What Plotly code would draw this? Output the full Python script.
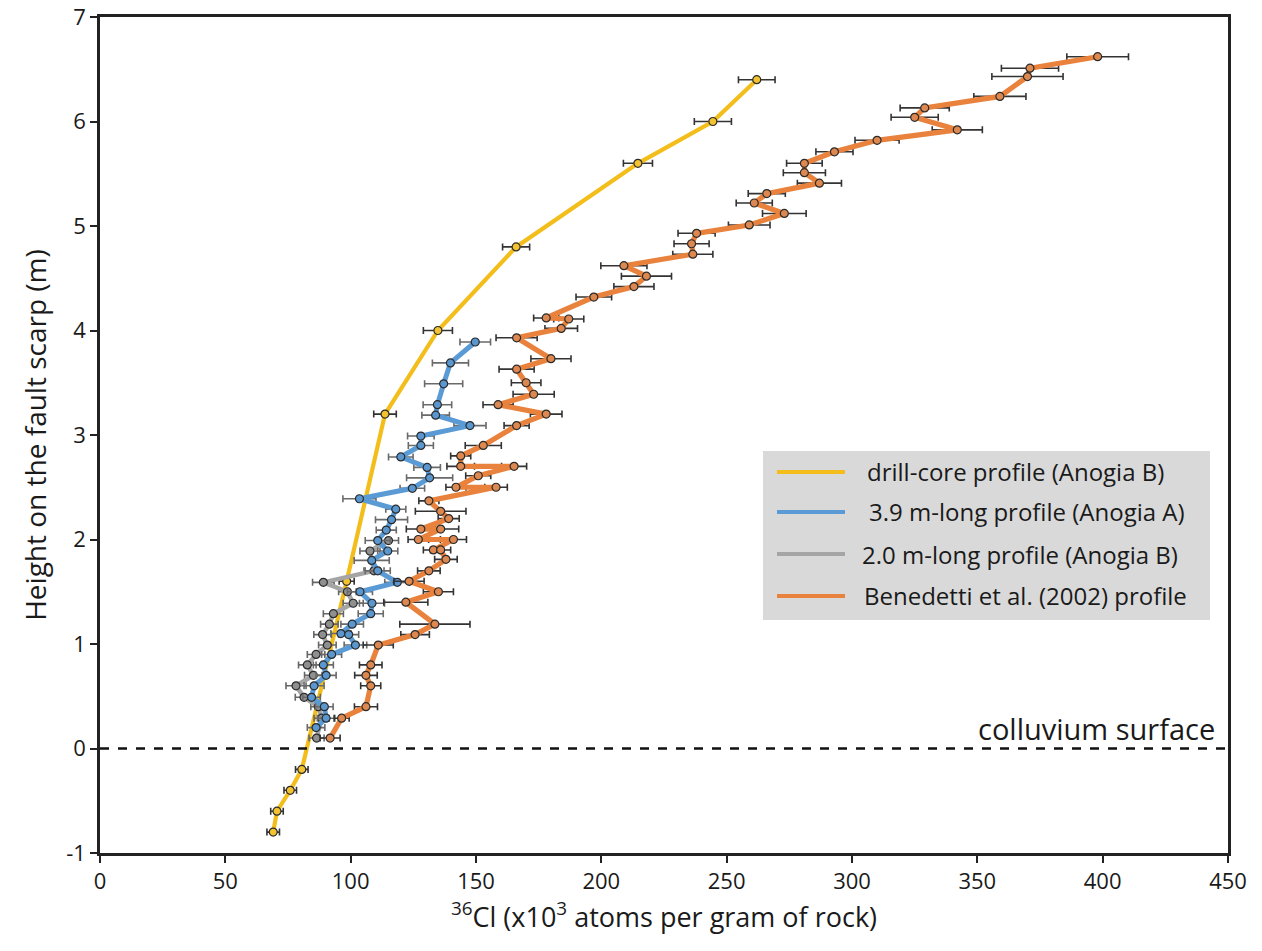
import plotly.graph_objects as go

# ---------------- data ----------------
# drill-core profile (Anogia B)
drill_h = [6.4, 6.0, 5.6, 4.8, 4.0, 3.2, 1.6, -0.2, -0.4, -0.6, -0.8]
drill_v = [262, 244.5, 214.6, 166, 134.8, 113.7, 98.4, 80.5, 75.9, 70.6, 69.1]
drill_e = [7.3, 7.4, 5.8, 5.4, 5.8, 4.5, 3.0, 2.5, 2.5, 2.5, 2.5]

# 3.9 m-long profile (Anogia A)
a39_h = [3.89, 3.69, 3.49, 3.29, 3.19, 3.09, 2.99, 2.90, 2.79, 2.69, 2.59, 2.49, 2.39,
         2.29, 2.19, 2.09, 1.99, 1.89, 1.80, 1.70, 1.59, 1.50, 1.39, 1.29, 1.19, 1.10,
         1.09, 0.99, 0.90, 0.80, 0.70, 0.60, 0.49, 0.40, 0.29, 0.20]
a39_v = [149.7, 139.8, 137.1, 134.6, 133.9, 147.6, 128, 128, 120, 130.5, 131.5, 124.6, 103.5,
         118, 116.3, 114.2, 110.8, 114.8, 108.4, 110.8, 118.6, 103.7, 108.5, 108, 100.6, 96.1,
         99.2, 101.9, 92.4, 89.1, 90.2, 85.4, 84.4, 89.5, 90.2, 86.2]
a39_e = [6.1, 7.2, 7.6, 5.7, 5.5, 6.4, 5.3, 5.0, 4.9, 5.3, 9.2, 4.9, 6.6,
         4.0, 6.4, 4.0, 5.0, 4.0, 7.0, 5.0, 5.0, 5.0, 5.0, 5.0, 4.5, 4.0,
         4.0, 4.5, 4.0, 4.0, 4.0, 4.0, 3.5, 3.5, 3.5, 3.5]

# 2.0 m-long profile (Anogia B)
b20_h = [1.99, 1.89, 1.70, 1.59, 1.50, 1.39, 1.29, 1.19, 1.09, 0.99, 0.90, 0.80, 0.70,
         0.60, 0.49, 0.40, 0.29, 0.10]
b20_v = [115.1, 107.7, 109.3, 89.1, 98.7, 101, 93.1, 91.5, 88.8, 90.7, 86.2, 82.7, 85.1,
         78.2, 81.4, 87.1, 88.4, 86.4]
b20_e = [4, 4, 4, 4.3, 3.5, 4, 4, 3.5, 3.5, 3.5, 3.5, 3.5, 3.5,
         4, 3.5, 3, 3, 3]

# Benedetti et al. (2002) profile
ben_h = [6.62, 6.51, 6.43, 6.24, 6.13, 6.04, 5.92, 5.82, 5.71, 5.60, 5.51, 5.41, 5.31,
         5.22, 5.12, 5.01, 4.93, 4.83, 4.73, 4.62, 4.52, 4.42, 4.32, 4.12, 4.11, 4.02,
         3.93, 3.73, 3.63, 3.50, 3.39, 3.29, 3.20, 3.09, 2.90, 2.80, 2.70, 2.70, 2.61,
         2.50, 2.50, 2.37, 2.27, 2.20, 2.10, 2.10, 2.00, 2.00, 1.90, 1.90, 1.81, 1.70,
         1.60, 1.50, 1.40, 1.19, 1.09, 0.99, 0.80, 0.70, 0.60, 0.40, 0.29, 0.10]
ben_v = [398, 371, 370, 359, 329, 325, 342, 310, 293, 281, 281, 287, 266,
         261, 273, 259, 238, 236, 236.5, 209, 218, 213, 197, 178, 187, 184,
         166.2, 179.9, 166.2, 170, 173, 158.8, 178, 166.2, 152.9, 143.9, 143.9, 165.2, 150.9,
         142, 158, 131.2, 135.9, 139.1, 128, 135.9, 127, 141, 133, 135.9, 138, 131.2,
         123.3, 135, 122, 133.6, 125.7, 111, 108, 106.1, 108, 106.1, 96.4, 91.8]
ben_e = [12.3, 11.4, 14.2, 10.4, 9.8, 9.4, 10, 8.8, 7.4, 7.1, 8.4, 8.8, 7.4,
         7.2, 8.7, 8.3, 7.4, 7.0, 8.0, 9.2, 10, 8.0, 7.1, 5.0, 6.0, 6.5,
         8.2, 8.0, 7.0, 5.9, 8.2, 6.0, 6.3, 5.0, 7.2, 4.0, 5.5, 5.0, 5.0,
         4.0, 4.5, 4.0, 10.1, 4.2, 5.8, 7.2, 4.1, 5.2, 4.0, 4.0, 4.5, 4.5,
         6.0, 6.0, 8.8, 14.0, 5.7, 6.0, 4.5, 4.5, 4.0, 4.6, 3.0, 4.0]

legend_labels = ["drill-core profile (Anogia B)", "3.9 m-long profile (Anogia A)",
                 "2.0 m-long profile (Anogia B)", "Benedetti et al. (2002) profile"]

x_ticks = [0, 50, 100, 150, 200, 250, 300, 350, 400, 450]
y_ticks = [-1, 0, 1, 2, 3, 4, 5, 6, 7]
y_ticktext = ["-1", "0", "1", "2", "3", "4", "5", "6", "7"]

# ---------------- styles ----------------
C_YEL = "#F3BE1C"
C_BLU = "#5B9BD5"
C_GRY = "#A5A5A5"
C_ORA = "#E8823D"
FONT = "Open Sans"
TXT = "#1a1a1a"

fig = go.Figure()


def add_series(v, h, e, line_col, mk_col, lw, err_col):
    fig.add_trace(go.Scatter(
        x=v, y=h, mode="lines+markers",
        line=dict(color=line_col, width=lw),
        marker=dict(size=8, color=mk_col, line=dict(color="#2b2b2b", width=1.2)),
        error_x=dict(type="data", array=e, visible=True, color=err_col,
                     thickness=1.6, width=3.5),
        showlegend=False, hoverinfo="x+y"))


add_series(drill_v, drill_h, drill_e, C_YEL, "#F2C230", 4.2, "#333333")
add_series(b20_v, b20_h, b20_e, C_GRY, "#8f8f8f", 4.5, "#666666")
add_series(a39_v, a39_h, a39_e, C_BLU, "#5b97cf", 5.0, "#6a6a6a")
add_series(ben_v, ben_h, ben_e, C_ORA, "#dc8850", 5.2, "#333333")

# colluvium surface dashed line
fig.add_shape(type="line", xref="paper", yref="y", x0=0, x1=1, y0=0, y1=0,
              line=dict(color="#111111", width=2.5, dash="dash"))
fig.add_annotation(xref="paper", yref="y", x=0.99, y=0.0, yshift=20,
                   xanchor="right", yanchor="middle", showarrow=False,
                   text="colluvium surface", font=dict(family=FONT, size=29, color=TXT))

# manual legend (grey box, long line samples)
fig.add_shape(type="rect", xref="paper", yref="paper",
              x0=(763 - 100) / 1128, x1=(1210 - 100) / 1128,
              y0=(853 - 620) / 836, y1=(853 - 451) / 836,
              fillcolor="#D9D9D9", line=dict(width=0), layer="below")
leg_cols = [C_YEL, C_BLU, C_GRY, C_ORA]
leg_y = [472, 512, 554, 596]
leg_tx = [865, 867, 860, 862]
for lab, col, yy, tx in zip(legend_labels, leg_cols, leg_y, leg_tx):
    yp = (853 - yy) / 836
    fig.add_shape(type="line", xref="paper", yref="paper",
                  x0=(777 - 100) / 1128, x1=(845 - 100) / 1128, y0=yp, y1=yp,
                  line=dict(color=col, width=4))
    fig.add_annotation(xref="paper", yref="paper", x=(tx - 100) / 1128, y=yp,
                       xanchor="left", yanchor="middle", showarrow=False, text=lab,
                       font=dict(family=FONT, size=24, color=TXT))

fig.update_layout(
    width=1262, height=951,
    margin=dict(l=100, r=34, t=17, b=98),
    paper_bgcolor="white", plot_bgcolor="white",
    font=dict(family=FONT, color=TXT),
    xaxis=dict(range=[0, 450], tickvals=x_ticks, ticks="outside", ticklen=7, tickwidth=2,
               tickcolor="#222222", showline=True, linecolor="#222222", linewidth=2.5,
               mirror=True, showgrid=False, zeroline=False, automargin=False,
               tickfont=dict(family=FONT, size=22, color=TXT),
               title=dict(text="<sup>36</sup>Cl (x10<sup>3</sup> atoms per gram of rock)",
                          font=dict(family=FONT, size=27, color=TXT), standoff=14)),
    yaxis=dict(range=[-1, 7], tickvals=y_ticks, ticktext=y_ticktext, ticks="outside",
               ticklen=7, tickwidth=2,
               tickcolor="#222222", showline=True, linecolor="#222222", linewidth=2.5,
               mirror=True, showgrid=False, zeroline=False, automargin=False,
               tickfont=dict(family=FONT, size=22, color=TXT),
               title=dict(text="Height on the fault scarp (m)",
                          font=dict(family=FONT, size=28, color=TXT), standoff=12)),
)

fig.write_html("out.html")
